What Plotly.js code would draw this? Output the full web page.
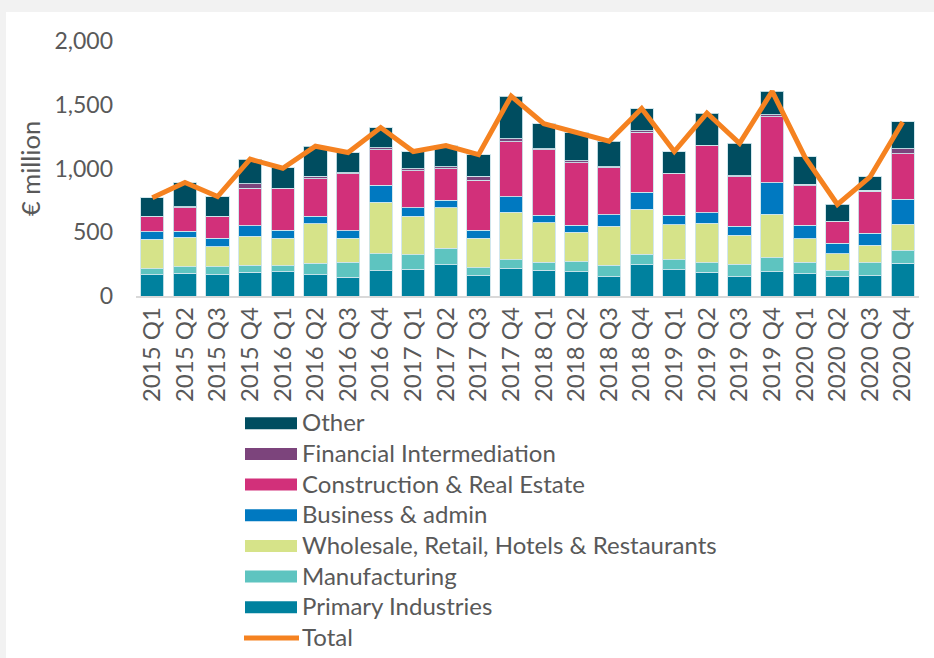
<!DOCTYPE html>
<html>
<head>
<meta charset="utf-8">
<script src="https://cdn.plot.ly/plotly-3.0.1.min.js"></script>
<style>
  html, body { margin: 0; padding: 0; background: #f2f2f2; width: 934px; height: 658px; overflow: hidden; }
  #chart { position: absolute; left: 6px; top: 12px; width: 928px; height: 646px; background: #ffffff; }
</style>
</head>
<body>
<div id="chart"></div>
<script>
const quarters = ["2015 Q1","2015 Q2","2015 Q3","2015 Q4","2016 Q1","2016 Q2","2016 Q3","2016 Q4",
  "2017 Q1","2017 Q2","2017 Q3","2017 Q4","2018 Q1","2018 Q2","2018 Q3","2018 Q4",
  "2019 Q1","2019 Q2","2019 Q3","2019 Q4","2020 Q1","2020 Q2","2020 Q3","2020 Q4"];

const primary       = [167,178,167,186,190,167,146,198,209,245,159,214,201,190,151,245,206,186,151,190,175,151,159,256];
const manufacturing = [47,52,63,57,47,91,118,133,114,131,63,70,65,79,89,84,78,75,100,110,89,47,102,99];
const wholesale     = [232,229,156,224,215,308,188,403,301,318,230,371,308,230,308,350,274,308,224,342,185,133,138,206];
const business      = [58,47,66,83,65,60,59,133,67,58,62,123,60,57,89,133,76,83,73,245,105,82,92,196];
const construction  = [120,188,169,296,326,295,449,281,290,245,392,433,512,491,368,472,327,527,386,520,310,172,329,360];
const financial     = [2,5,3,36,3,19,8,13,19,18,34,24,10,12,8,13,3,3,11,13,13,3,10,39];
const other         = [146,191,156,191,159,235,157,160,133,165,169,333,196,223,201,173,169,253,253,185,214,130,104,209];
const total         = [770,890,780,1073,1002,1175,1125,1321,1133,1180,1109,1568,1352,1282,1214,1470,1133,1435,1198,1605,1091,718,934,1365];

const seriesNames = ["Primary Industries","Manufacturing","Wholesale, Retail, Hotels & Restaurants",
  "Business & admin","Construction & Real Estate","Financial Intermediation","Other"];
const seriesValues = [primary, manufacturing, wholesale, business, construction, financial, other];
const seriesColors = ["#00819e","#5ec4c0","#d6e389","#0079c1","#d2307a","#7c447c","#004d60"];
const totalName = "Total";
const totalColor = "#f58220";

const traces = [];
seriesNames.forEach((name, i) => {
  traces.push({
    type: "bar", name: name, x: quarters, y: seriesValues[i],
    marker: { color: seriesColors[i], line: { color: "rgba(205,228,235,0.9)", width: 1 } },
    hoverinfo: "x+y+name"
  });
});
traces.push({
  type: "scatter", mode: "lines", name: totalName, x: quarters, y: total,
  line: { color: totalColor, width: 5 }
});

// Plot area geometry (in div pixels) used to place the legend in paper coords
const W = 928, H = 646, M = { l: 130, r: 15, t: 29, b: 362 };
const pw = W - M.l - M.r, ph = H - M.t - M.b;
const px2x = X => (X - M.l) / pw;
const px2y = Y => (H - M.b - Y) / ph;

// Manual legend (top to bottom: Other ... Primary, then Total)
const legendItems = [];
for (let i = seriesNames.length - 1; i >= 0; i--) legendItems.push({ name: seriesNames[i], color: seriesColors[i], kind: "bar" });
legendItems.push({ name: totalName, color: totalColor, kind: "line" });

const shapes = [], annotations = [];
const legTop = 411.3, legStep = 30.66, swL = 239, swR = 291, txtX = 294;
legendItems.forEach((it, k) => {
  const cy = legTop + k * legStep;
  if (it.kind === "bar") {
    shapes.push({ type: "rect", xref: "paper", yref: "paper", x0: px2x(swL), x1: px2x(swR),
      y0: px2y(cy - 6), y1: px2y(cy + 6), fillcolor: it.color, line: { width: 0 } });
  } else {
    shapes.push({ type: "line", xref: "paper", yref: "paper", x0: px2x(swL - 1), x1: px2x(swR + 2),
      y0: px2y(cy), y1: px2y(cy), line: { color: it.color, width: 5 } });
  }
  annotations.push({ xref: "paper", yref: "paper", x: px2x(txtX), y: px2y(cy - 1.5), xanchor: "left", yanchor: "middle",
    text: it.name, showarrow: false, font: { size: 24, color: "#595959" } });
});

const layout = {
  width: W, height: H,
  margin: M,
  paper_bgcolor: "#ffffff", plot_bgcolor: "#ffffff",
  font: { family: "Lato, 'Open Sans', sans-serif", color: "#595959", size: 21 },
  barmode: "stack", bargap: 0.29,
  showlegend: false,
  shapes: shapes, annotations: annotations,
  xaxis: {
    type: "category", tickangle: -90, showgrid: false, zeroline: false,
    showline: true, linecolor: "#d9d9d9", linewidth: 1.5, ticks: "",
    tickfont: { size: 24, color: "#595959" }, fixedrange: true, automargin: false
  },
  yaxis: {
    range: [0, 2000], tickvals: [0, 500, 1000, 1500, 2000],
    ticktext: ["0", "500", "1,000", "1,500", "2,000"],
    showgrid: false, zeroline: false, showline: false, ticks: "",
    ticklabelstandoff: 22, automargin: false,
    tickfont: { size: 23, color: "#595959" },
    title: { text: "€ million", font: { size: 25.5, color: "#595959" }, standoff: 6 },
    fixedrange: true
  }
};

Plotly.newPlot("chart", traces, layout, { displayModeBar: false, staticPlot: true });
</script>
</body>
</html>
